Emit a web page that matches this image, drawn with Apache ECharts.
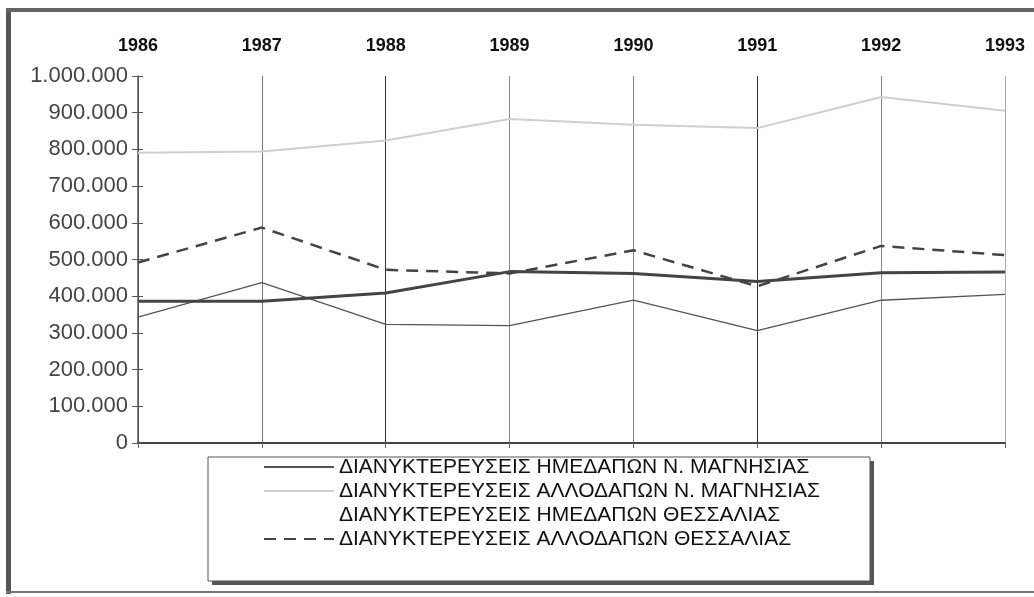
<!DOCTYPE html>
<html>
<head>
<meta charset="utf-8">
<script src="https://cdn.jsdelivr.net/npm/echarts@6/dist/echarts.min.js"></script>
<style>
html,body{margin:0;padding:0;background:#fff;}
#c{width:1034px;height:597px;}
</style>
</head>
<body>
<div id="c"></div>
<script>
const years = ['1986','1987','1988','1989','1990','1991','1992','1993'];
const yTicks = [0, 100000, 200000, 300000, 400000, 500000, 600000, 700000, 800000, 900000, 1000000];
const names = [
  'ΔΙΑΝΥΚΤΕΡΕΥΣΕΙΣ ΗΜΕΔΑΠΩΝ Ν. ΜΑΓΝΗΣΙΑΣ',
  'ΔΙΑΝΥΚΤΕΡΕΥΣΕΙΣ ΑΛΛΟΔΑΠΩΝ Ν. ΜΑΓΝΗΣΙΑΣ',
  'ΔΙΑΝΥΚΤΕΡΕΥΣΕΙΣ ΗΜΕΔΑΠΩΝ ΘΕΣΣΑΛΙΑΣ',
  'ΔΙΑΝΥΚΤΕΡΕΥΣΕΙΣ ΑΛΛΟΔΑΠΩΝ ΘΕΣΣΑΛΙΑΣ'
];
const domesticMagnesia = [343000, 437000, 323000, 320000, 389000, 306000, 389000, 405000];
const foreignMagnesia  = [791000, 794000, 824000, 883000, 867000, 858000, 943000, 905000];
const domesticThessaly = [386000, 386000, 409000, 467000, 462000, 440000, 464000, 466000];
const foreignThessaly  = [492000, 587000, 472000, 462000, 525000, 427000, 537000, 512000];

function fmt(v){ return String(v).replace(/\B(?=(\d{3})+(?!\d))/g, '.'); }

const chart = echarts.init(document.getElementById('c'));
const FONT = '"Liberation Sans", Arial, sans-serif';
chart.setOption({
  animation: false,
  backgroundColor: '#fff',
  grid: { left: 138, right: 29, top: 76, bottom: 154 },
  xAxis: [
    {
      type: 'category', data: years, position: 'top', boundaryGap: false,
      axisLine: { show: true, lineStyle: { color: '#444', width: 2 } },
      axisTick: { show: false },
      axisLabel: { color: '#111', fontFamily: FONT, fontSize: 18, fontWeight: 'bold', margin: 21 },
      splitLine: { show: true, lineStyle: { color: ['#666','#777','#333','#888','#888','#333','#888','#aaa'], width: 1 } }
    },
    {
      type: 'category', data: years, position: 'bottom', boundaryGap: false,
      axisLine: { show: true, lineStyle: { color: '#444', width: 2 } },
      axisTick: { show: true, length: 5, lineStyle: { color: '#666' } },
      axisLabel: { show: false },
      splitLine: { show: false }
    }
  ],
  yAxis: [
    {
      type: 'value', min: yTicks[0], max: yTicks[yTicks.length-1], interval: 100000,
      axisLine: { show: true, lineStyle: { color: '#555', width: 1.5 } },
      axisTick: { show: true, length: 6, lineStyle: { color: '#555' } },
      axisLabel: { color: '#444', fontFamily: FONT, fontSize: 22, margin: 10, formatter: fmt },
      splitLine: { show: false }
    },
    {
      type: 'value', min: yTicks[0], max: yTicks[yTicks.length-1], interval: 100000, position: 'left',
      axisLine: { show: false },
      axisTick: { show: true, inside: true, length: 5, lineStyle: { color: '#555' } },
      axisLabel: { show: false },
      splitLine: { show: false }
    }
  ],
  legend: {
    orient: 'vertical', left: 263, top: 455, padding: 0,
    itemWidth: 70, itemHeight: 14, itemGap: 0,
    itemStyle: { opacity: 0 },
    textStyle: { color: '#111', fontFamily: FONT, fontSize: 21, lineHeight: 24 },
    data: [
      { name: names[0] },
      { name: names[1] },
      { name: names[2], lineStyle: { opacity: 0 }, itemStyle: { opacity: 0 } },
      { name: names[3] }
    ]
  },
  graphic: [
    { type: 'rect', shape: { x: 6, y: 8, width: 5, height: 586 }, style: { fill: '#555' }, silent: true },
    { type: 'rect', shape: { x: 6, y: 8, width: 1028, height: 4 }, style: { fill: '#666' }, silent: true },
    { type: 'rect', shape: { x: 6, y: 591, width: 1028, height: 2 }, style: { fill: '#777' }, silent: true },
    { type: 'rect', z: -1, shape: { x: 212, y: 461, width: 662, height: 124 }, style: { fill: '#555' }, silent: true },
    { type: 'rect', z: -1, shape: { x: 208, y: 457, width: 662, height: 124 }, style: { fill: '#fff', stroke: '#555', lineWidth: 1 }, silent: true }
  ],
  series: [
    { name: names[0], type: 'line', data: domesticMagnesia, symbol: 'none',
      lineStyle: { color: '#555', width: 1.3 }, itemStyle: { color: '#555' } },
    { name: names[1], type: 'line', data: foreignMagnesia, symbol: 'none',
      lineStyle: { color: '#cfcfcf', width: 2 }, itemStyle: { color: '#cfcfcf' } },
    { name: names[2], type: 'line', data: domesticThessaly, symbol: 'none',
      lineStyle: { color: '#444', width: 3 }, itemStyle: { color: '#444' } },
    { name: names[3], type: 'line', data: foreignThessaly, symbol: 'none',
      lineStyle: { color: '#444', width: 2.5, type: [12, 8] }, itemStyle: { color: '#444' } }
  ]
});
</script>
</body>
</html>
